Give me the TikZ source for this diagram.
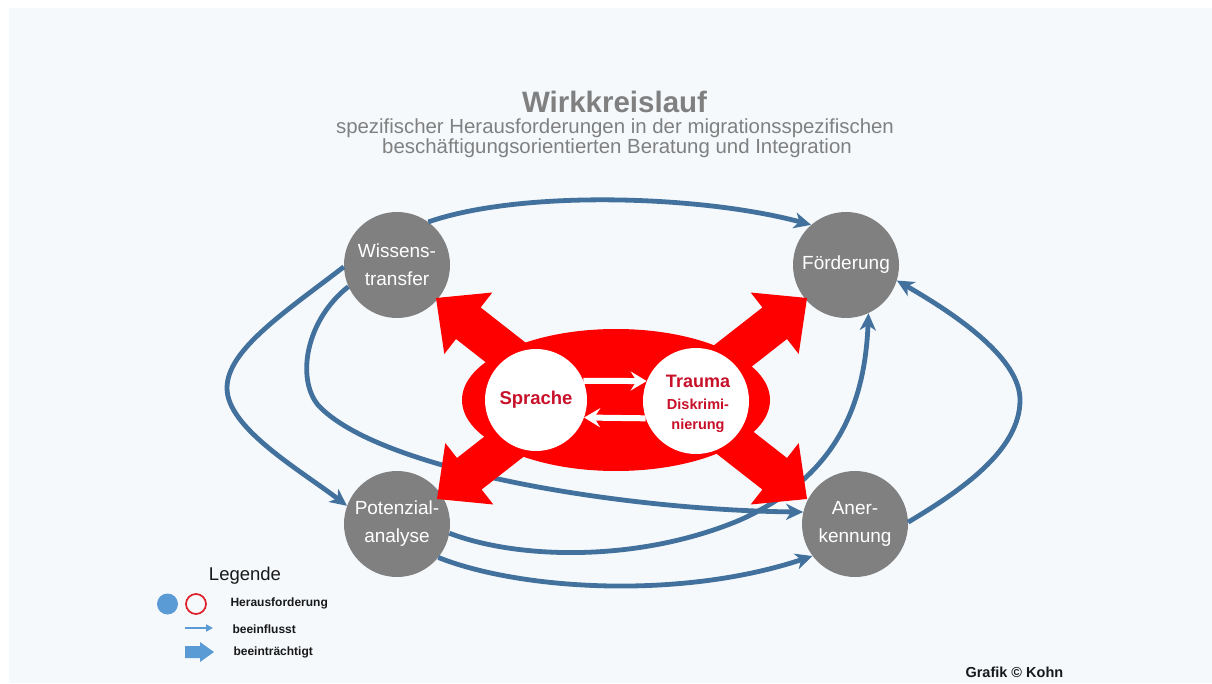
\documentclass[tikz,border=0pt]{standalone}
\usepackage{fontspec}
\setmainfont{Liberation Sans}
\usetikzlibrary{arrows.meta,calc}
\definecolor{bgblue}{RGB}{245,249,252}
\definecolor{connblue}{RGB}{65,113,156}
\definecolor{legblue}{RGB}{91,155,213}
\definecolor{gnodec}{RGB}{128,128,128}
\definecolor{titlegray}{RGB}{128,128,128}
\definecolor{redfill}{RGB}{255,0,0}
\definecolor{redtext}{RGB}{200,16,40}
\definecolor{legred}{RGB}{220,30,40}
\definecolor{darktext}{RGB}{25,25,25}
\newcommand{\fsz}[2]{\fontsize{#1}{#2}\selectfont}
\newcommand{\redarrow}[3]{%
  \begin{scope}[shift={(#1,#2)},rotate=#3]
    \fill[redfill] (0,0) -- (-41,39) -- (-41,20) -- (-135,20) -- (-135,-20) -- (-41,-20) -- (-41,-39) -- cycle;
  \end{scope}}
\begin{document}
\begin{tikzpicture}[x=1pt,y=-1pt,
  gnode/.style={circle,fill=gnodec,minimum size=106pt,inner sep=0pt,text=white,align=center,font=\fsz{19}{28}},
  wnode/.style={circle,fill=white,inner sep=0pt,text=redtext,align=center},
  link/.style={draw=connblue,line width=4.8pt,-{Stealth[length=17pt,width=16pt,inset=5pt]}},
  warrow/.style={draw=white,line width=6pt,-{Stealth[length=16pt,width=19pt,inset=6pt]}},
  legtext/.style={anchor=base west,text=darktext,font=\bfseries\fsz{12}{14}}
]
\useasboundingbox (0,0) rectangle (1212,684);
\fill[bgblue] (9,8) rectangle (1212,683);

% titles
\node[anchor=base,text=titlegray,font=\bfseries\fsz{29.5}{32},inner sep=1pt] (title) at (614.5,113) {Wirkkreislauf};
\node[anchor=base,text=titlegray,font=\fsz{20.4}{20},inner sep=1pt] (sub1) at (615,134) {spezifischer Herausforderungen in der migrationsspezifischen};
\node[anchor=base,text=titlegray,font=\fsz{20.4}{20},inner sep=1pt] (sub2) at (617,154) {beschäftigungsorientierten Beratung und Integration};

% grey nodes
\node[gnode] (W) at (397,265) {Wissens-\\transfer};
\node[gnode] (F) at (846,265) {Förderung};
\node[gnode] (P) at (397,524) {Potenzial-\\analyse};
\node[gnode] (A) at (855,524) {Aner-\\kennung};

% blue connectors
\draw[link] (W.54) .. controls (520,190) and (700,195) .. (F.131);
\draw[link] (W.182) .. controls (285,312) and (227,350) .. (227,388) .. controls (227,428) and (300,470) .. (P.160);
\draw[link] (W.204) .. controls (306,320) and (296,378) .. (318,405) .. controls (378,470) and (620,510) .. (A.167);
\draw[link] (P.350) .. controls (520,560) and (640,562) .. (740,520) .. controls (840,475) and (865,400) .. (F.295);
\draw[link] (P.321) .. controls (520,590) and (680,600) .. (A.217);
\draw[link] (A.2) .. controls (962,490) and (1020,450) .. (1020,400) .. controls (1020,360) and (962,318) .. (F.343);

% red block arrows
\redarrow{436}{298}{142}
\redarrow{807}{298}{38}
\redarrow{437}{499}{218}
\redarrow{807}{499}{322}

% red ellipse
\fill[redfill] (616,400) ellipse [x radius=154pt, y radius=71pt];

% white circles
\node[wnode,minimum size=102pt,font=\bfseries\fsz{18.5}{22}] (S) at (536,400) {Sprache};
\node[wnode,minimum size=106pt] (T) at (696,401) {};
\node[anchor=base,text=redtext,font=\bfseries\fsz{18}{22}] (t1) at (698,387) {Trauma};
\node[anchor=base,text=redtext,font=\bfseries\fsz{14.5}{18}] (t2) at (698,409) {Diskrimi-};
\node[anchor=base,text=redtext,font=\bfseries\fsz{14.5}{18}] (t3) at (698,429) {nierung};

% white arrows
\draw[warrow] (S.22) -- (T.158);
\draw[warrow] (T.199) -- (S.-20.5);

% legend
\node[anchor=base,text=darktext,font=\fsz{18.5}{20}] (leg) at (245,580) {Legende};
\node[circle,fill=legblue,minimum size=21pt,inner sep=0pt] (lc1) at (167.5,604) {};
\node[circle,draw=legred,line width=1.7pt,fill=bgblue,minimum size=20pt,inner sep=0pt] (lc2) at (196,604) {};
\node[legtext] (l1) at (227,606) {Herausforderung};
\coordinate (la1) at (185,628);
\coordinate (la2) at (213,628);
\draw[draw=legblue,line width=2.2pt,-{Triangle[length=7pt,width=7pt]}] (la1) -- (la2);
\node[legtext] (l2) at (229,633) {beeinflusst};
\fill[legblue] (185,646) -- (200,646) -- (200,642) -- (214,652) -- (200,662) -- (200,658) -- (185,658) -- cycle;
\node[legtext] (l3) at (230,655) {beeinträchtigt};

% credit
\node[anchor=base west,text=darktext,font=\bfseries\fsz{14.5}{16}] (cred) at (962,677) {Grafik © Kohn};
\end{tikzpicture}
\end{document}
